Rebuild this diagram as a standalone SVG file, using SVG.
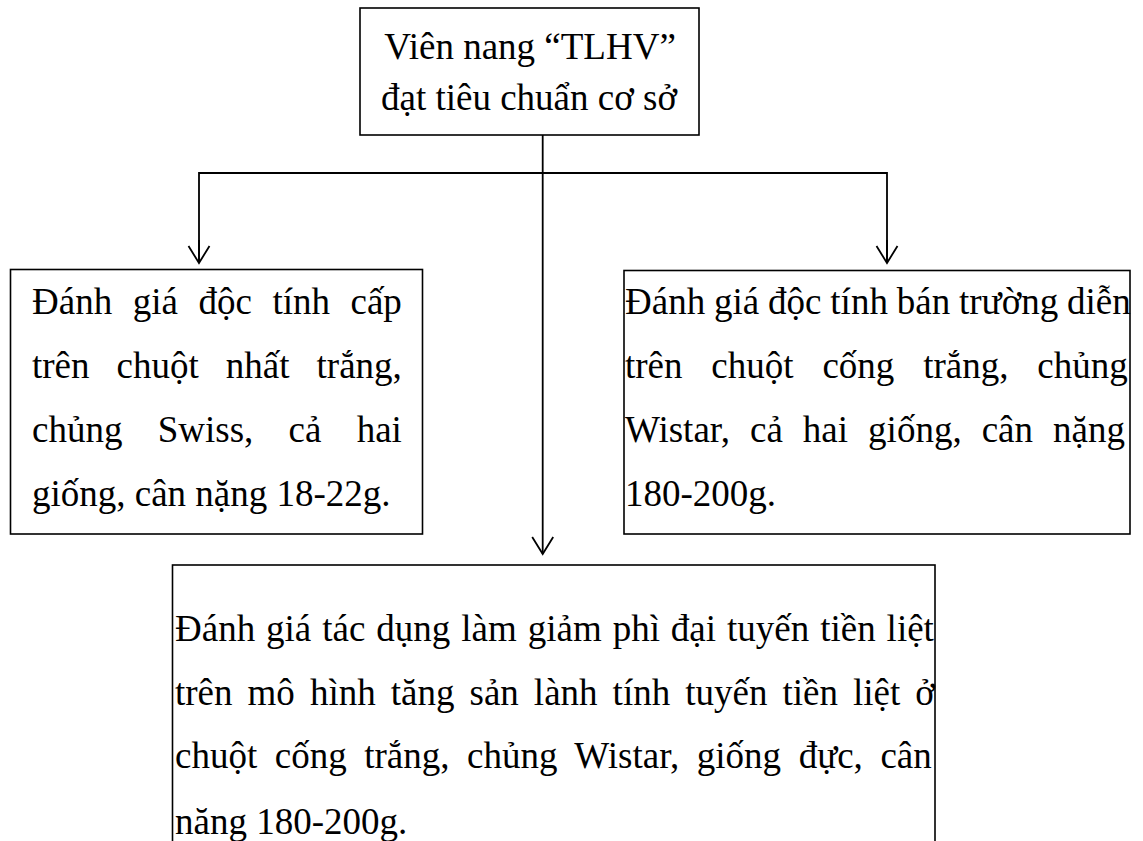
<svg xmlns="http://www.w3.org/2000/svg" width="1143" height="841" viewBox="0 0 1143 841">
<style>
.box{fill:#fff;stroke:#000;stroke-width:1.6}
.t{font-family:"Liberation Serif","Times New Roman",serif;font-size:37px;fill:#000}
.c{fill:none;stroke:#000;stroke-width:1.8}
</style>
<defs>
<marker id="ah" markerUnits="userSpaceOnUse" markerWidth="30" markerHeight="30" refX="0" refY="0" viewBox="-20 -15 24 30" orient="auto">
<path d="M-17,-10.5 L0,0 L-17,10.5" fill="none" stroke="#000" stroke-width="1.8"/>
</marker>
</defs>
<rect width="1143" height="841" fill="#fff"/>
<g id="connectors">
<line class="c" x1="542.7" y1="135" x2="542.7" y2="554" marker-end="url(#ah)"/>
<polyline class="c" points="199,263 199,173 887,173 887,263"/>
<line class="c" x1="199" y1="240" x2="199" y2="263" marker-end="url(#ah)"/>
<line class="c" x1="887" y1="240" x2="887" y2="263" marker-end="url(#ah)"/>
</g>
<g id="top">
<rect class="box" x="360" y="8" width="339" height="127"/>
<text class="t" x="530" y="59" text-anchor="middle">Viên nang “TLHV”</text>
<text class="t" x="529" y="110" text-anchor="middle">đạt tiêu chuẩn cơ sở</text>
</g>
<g id="left">
<rect class="box" x="10.5" y="269.5" width="412" height="264.5"/>
<text class="t" x="32" y="314" word-spacing="11.3">Đánh giá độc tính cấp</text>
<text class="t" x="32" y="378" word-spacing="17.8">trên chuột nhất trắng,</text>
<text class="t" x="32" y="442" word-spacing="26">chủng Swiss, cả hai</text>
<text class="t" x="32" y="506">giống, cân nặng 18-22g.</text>
</g>
<g id="right">
<rect class="box" x="624" y="270.5" width="506" height="263.5"/>
<text class="t" x="625" y="314" word-spacing="-0.4">Đánh giá độc tính bán trường diễn</text>
<text class="t" x="625" y="378" word-spacing="19.6">trên chuột cống trắng, chủng</text>
<text class="t" x="625" y="442" word-spacing="10.8">Wistar, cả hai giống, cân nặng</text>
<text class="t" x="625" y="506">180-200g.</text>
</g>
<g id="bottom">
<rect class="box" x="172.5" y="565" width="762.5" height="300"/>
<text class="t" x="175" y="641" word-spacing="1.7">Đánh giá tác dụng làm giảm phì đại tuyến tiền liệt</text>
<text class="t" x="175" y="705" word-spacing="5.8">trên mô hình tăng sản lành tính tuyến tiền liệt ở</text>
<text class="t" x="175" y="768" word-spacing="8.3">chuột cống trắng, chủng Wistar, giống đực, cân</text>
<text class="t" x="175" y="834">năng 180-200g.</text>
</g>
</svg>
